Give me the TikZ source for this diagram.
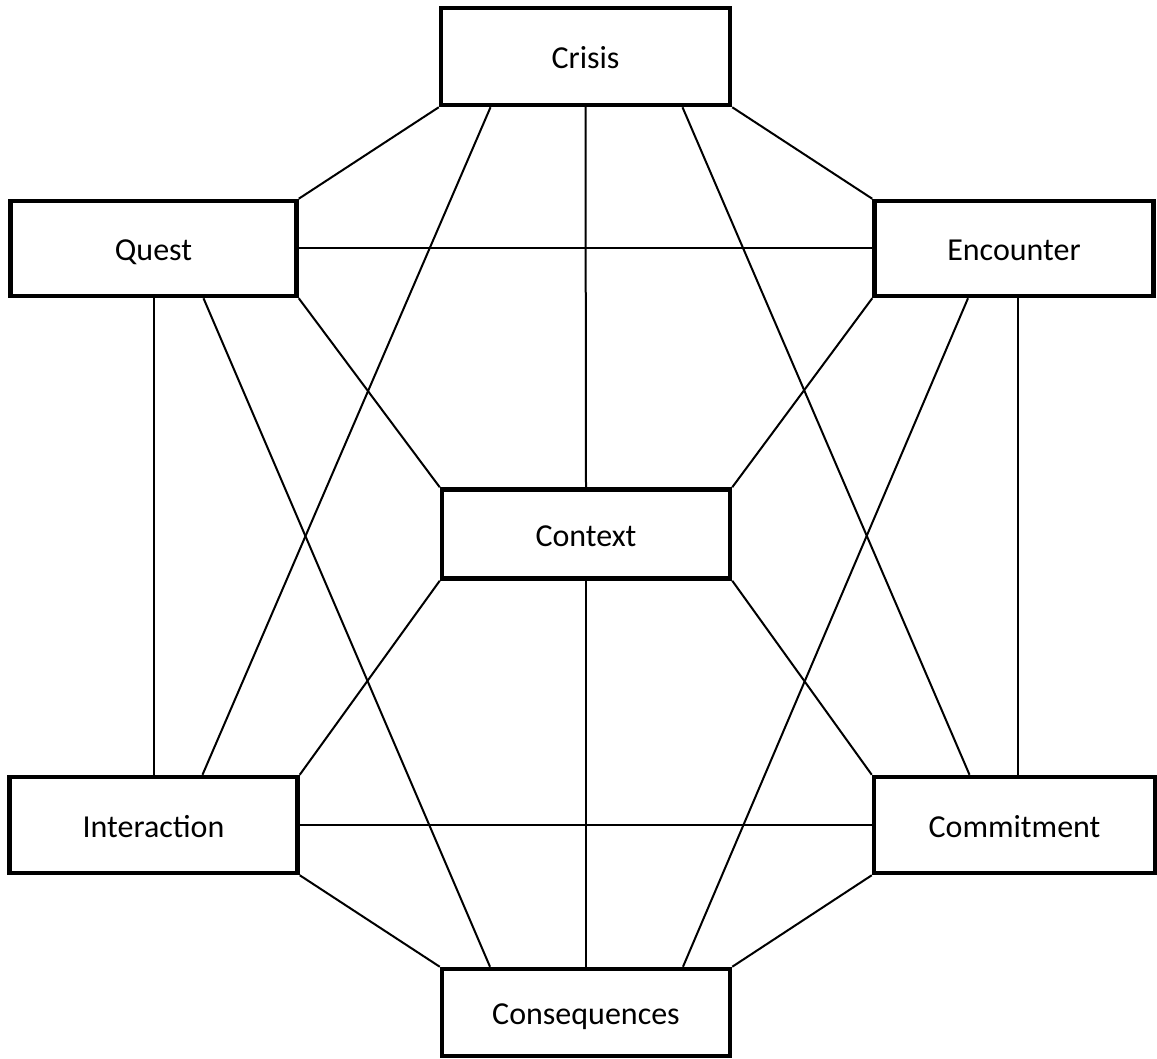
\documentclass[tikz,border=0pt]{standalone}
\usepackage{fontspec}
\setmainfont{Carlito}
\usetikzlibrary{calc}

\begin{document}
\begin{tikzpicture}[x=1pt,y=-1pt,
  box/.style={draw,line width=4.5pt,fill=white,inner sep=0pt,
    text height=28pt,text depth=3.5pt,
    font=\fontsize{32}{38}\selectfont},
  link/.style={line width=2pt}]
\useasboundingbox (0,0) rectangle (1157,1059);
\node[box,minimum width=289pt,minimum height=97pt] (crisis) at (585.5,56.5) {Crisis};
\node[box,minimum width=286pt,minimum height=95pt] (quest) at (153.5,248.5) {Quest};
\node[box,minimum width=279pt,minimum height=95pt] (encounter) at (1014,248.5) {Encounter};
\node[box,minimum width=288pt,minimum height=89pt] (context) at (586,534) {Context};
\node[box,minimum width=288pt,minimum height=96pt] (interaction) at (153.5,825) {Interaction};
\node[box,minimum width=281pt,minimum height=96pt] (commitment) at (1014.5,825) {Commitment};
\node[box,minimum width=288pt,minimum height=87pt] (consequences) at (586,1012.5) {Consequences};
% links from Crisis
\draw[link] (crisis.south west) -- (quest.north east);
\draw[link] ($(crisis.south)+(-95,0)$) -- ($(interaction.north)+(49,0)$);
\draw[link] (crisis.south) -- (context.north);
\draw[link] ($(crisis.south)+(97,0)$) -- ($(commitment.north)+(-45,0)$);
\draw[link] (crisis.south east) -- (encounter.north west);
% links from Quest
\draw[link] (quest.east) -- (encounter.west);
\draw[link] (quest.south) -- (interaction.north);
\draw[link] ($(quest.south)+(50,0)$) -- ($(consequences.north)+(-96,0)$);
\draw[link] (quest.south east) -- (context.north west);
% links from Encounter
\draw[link] (encounter.south west) -- (context.north east);
\draw[link] ($(encounter.south)+(-46,0)$) -- ($(consequences.north)+(97,0)$);
\draw[link] ($(encounter.south)+(4,0)$) -- ($(commitment.north)+(3.5,0)$);
% links from Context
\draw[link] (context.south west) -- (interaction.north east);
\draw[link] (context.south) -- (consequences.north);
\draw[link] (context.south east) -- (commitment.north west);
% bottom links
\draw[link] (interaction.east) -- (commitment.west);
\draw[link] (interaction.south east) -- (consequences.north west);
\draw[link] (commitment.south west) -- (consequences.north east);
\end{tikzpicture}
\end{document}
